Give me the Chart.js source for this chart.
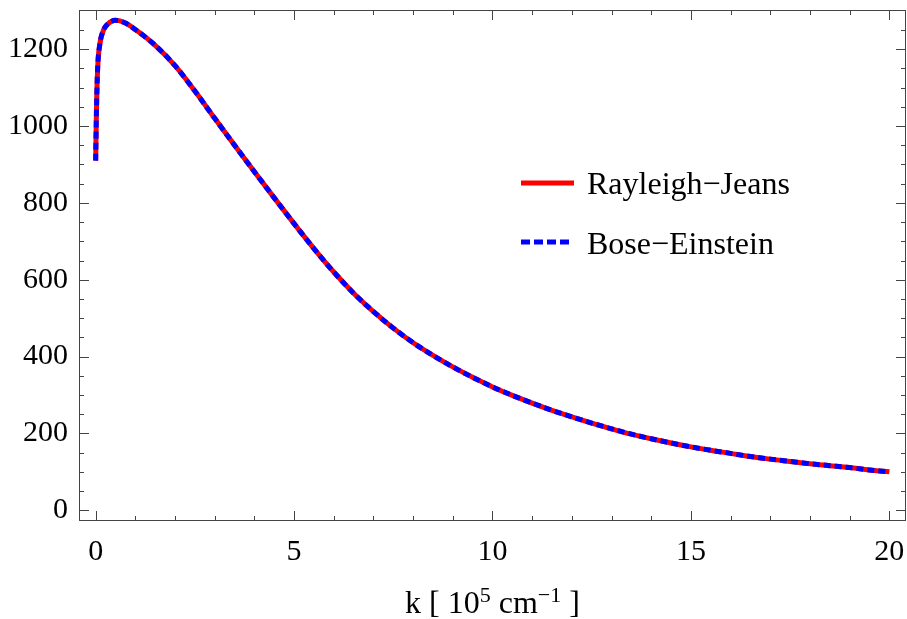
<!DOCTYPE html>
<html>
<head>
<meta charset="utf-8">
<script src="https://cdn.jsdelivr.net/npm/chart.js@4.4.1/dist/chart.umd.min.js"></script>
<style>
  html, body { margin: 0; padding: 0; background: #fff; }
  #wrap { width: 907px; height: 619px; position: relative; }
</style>
</head>
<body>
<div id="wrap"><canvas id="spectrum"></canvas></div>
<script>
// valores
const kValues = [0, 0.02, 0.05, 0.1, 0.2, 0.3, 0.5, 0.75, 1, 1.5,
  2, 2.5, 3, 3.5, 4, 4.5, 5, 5.5, 6, 6.5,
  7, 7.5, 8, 8.5, 9, 9.5, 10, 10.5, 11, 11.5,
  12, 12.5, 13, 13.5, 14, 14.5, 15, 15.5, 16, 16.5,
  17, 17.5, 18, 18.5, 19, 19.5, 20];
const rayleighJeans = [910, 1040, 1150, 1210, 1250, 1265, 1275, 1268, 1251, 1210,
  1157, 1091, 1020, 950, 881, 813, 746, 681, 620, 565,
  517, 474, 436, 403, 373, 346, 321, 299, 279, 260,
  243, 227, 212, 198, 186, 175, 165, 156, 148, 140,
  133, 127, 121, 116, 111, 105, 100];
const boseEinstein = [910, 1040, 1150, 1210, 1250, 1265, 1275, 1268, 1251, 1210,
  1157, 1091, 1020, 950, 881, 813, 746, 681, 620, 565,
  517, 474, 436, 403, 373, 346, 321, 299, 279, 260,
  243, 227, 212, 198, 186, 175, 165, 156, 148, 140,
  133, 127, 121, 116, 111, 105, 100];
const seriesNames = ["Rayleigh\u2212Jeans", "Bose\u2212Einstein"];
const xTicks = [0, 5, 10, 15, 20];
const yTicks = [0, 200, 400, 600, 800, 1000, 1200];

const FONT = "'Liberation Serif', 'Times New Roman', serif";

function toPoints(ys) {
  return kValues.map((k, i) => ({ x: k, y: ys[i] }));
}

// moldura com marcas de escala para dentro (estilo Mathematica)
const framePlugin = {
  id: 'frame',
  afterDraw(chart) {
    const { ctx, chartArea: a, scales } = chart;
    const xs = scales.x, ys = scales.y;
    ctx.save();
    ctx.strokeStyle = '#444';
    ctx.lineWidth = 1;
    ctx.strokeRect(a.left + 0.5, a.top + 0.5, a.right - a.left - 1, a.bottom - a.top - 1);
    ctx.beginPath();
    for (let v = 0; v <= 20; v += 1) {
      const p = Math.round(xs.getPixelForValue(v)) + 0.5;
      const len = v % 5 === 0 ? 10 : 5;
      ctx.moveTo(p, a.bottom); ctx.lineTo(p, a.bottom - len);
      ctx.moveTo(p, a.top); ctx.lineTo(p, a.top + len);
    }
    for (let v = 0; v <= 1250; v += 50) {
      const p = Math.round(ys.getPixelForValue(v)) + 0.5;
      const len = v % 200 === 0 ? 10 : 5;
      ctx.moveTo(a.left, p); ctx.lineTo(a.left + len, p);
      ctx.moveTo(a.right, p); ctx.lineTo(a.right - len, p);
    }
    ctx.stroke();

    // título do eixo x com sobrescritos
    const parts = [
      { t: 'k [ 10', sup: false },
      { t: '5', sup: true },
      { t: ' cm', sup: false },
      { t: '\u22121', sup: true },
      { t: ' ]', sup: false }
    ];
    const big = '32px ' + FONT, small = '22px ' + FONT;
    let w = 0;
    parts.forEach(p => { ctx.font = p.sup ? small : big; p.w = ctx.measureText(p.t).width; w += p.w; });
    let x = (a.left + a.right) / 2 - w / 2;
    const base = 613;
    ctx.fillStyle = '#000';
    ctx.textBaseline = 'alphabetic';
    ctx.textAlign = 'left';
    parts.forEach(p => {
      ctx.font = p.sup ? small : big;
      ctx.fillText(p.t, x, p.sup ? base - 11 : base);
      x += p.w;
    });

    // legenda dentro da área do gráfico
    const legendRows = [
      { y: 183, base: 194, len: 53, dash: [] },
      { y: 242, base: 254, len: 48, dash: [9, 4] }
    ];
    chart.data.datasets.forEach((ds, i) => {
      const r = legendRows[i];
      ctx.beginPath();
      ctx.strokeStyle = ds.borderColor;
      ctx.lineWidth = ds.borderWidth;
      ctx.lineCap = 'butt';
      ctx.setLineDash(r.dash);
      ctx.moveTo(521, r.y); ctx.lineTo(521 + r.len, r.y);
      ctx.stroke();
      ctx.setLineDash([]);
      ctx.font = big;
      ctx.fillStyle = '#000';
      ctx.fillText(ds.label, 587, r.base);
    });
    ctx.restore();
  }
};

new Chart(document.getElementById('spectrum').getContext('2d'), {
  type: 'scatter',
  data: {
    datasets: [{
      label: seriesNames[0],
      data: toPoints(rayleighJeans),
      showLine: true,
      order: 2,
      borderColor: '#ff0000',
      backgroundColor: '#ff0000',
      borderWidth: 5,
      pointRadius: 0,
      cubicInterpolationMode: 'monotone'
    }, {
      label: seriesNames[1],
      data: toPoints(boseEinstein),
      showLine: true,
      order: 1,
      borderColor: '#0000ff',
      backgroundColor: '#0000ff',
      borderWidth: 5,
      borderDash: [7, 4],
      pointRadius: 0,
      cubicInterpolationMode: 'monotone'
    }]
  },
  options: {
    responsive: true,
    maintainAspectRatio: false,
    animation: false,
    layout: { autoPadding: false, padding: { left: 0, right: 1, top: 10, bottom: 0 } },
    plugins: {
      legend: { display: false },
      tooltip: { enabled: false }
    },
    scales: {
      x: {
        type: 'linear',
        min: -0.42,
        max: 20.42,
        grid: { display: false, drawTicks: false },
        border: { display: false },
        afterBuildTicks: s => { s.ticks = xTicks.map(v => ({ value: v })); },
        afterFit: s => { s.height = 98; s.paddingLeft = 0; s.paddingRight = 0; },
        ticks: {
          padding: 13,
          maxRotation: 0,
          color: '#000',
          font: { family: FONT, size: 30 },
          callback: v => String(v)
        }
      },
      y: {
        type: 'linear',
        min: -28,
        max: 1302,
        grid: { display: false, drawTicks: false },
        border: { display: false },
        afterBuildTicks: s => { s.ticks = yTicks.map(v => ({ value: v })); },
        afterFit: s => { s.width = 79; s.paddingTop = 0; s.paddingBottom = 0; },
        ticks: {
          padding: 11,
          color: '#000',
          font: { family: FONT, size: 30 },
          callback: v => String(v)
        }
      }
    }
  },
  plugins: [framePlugin]
});
</script>
</body>
</html>
